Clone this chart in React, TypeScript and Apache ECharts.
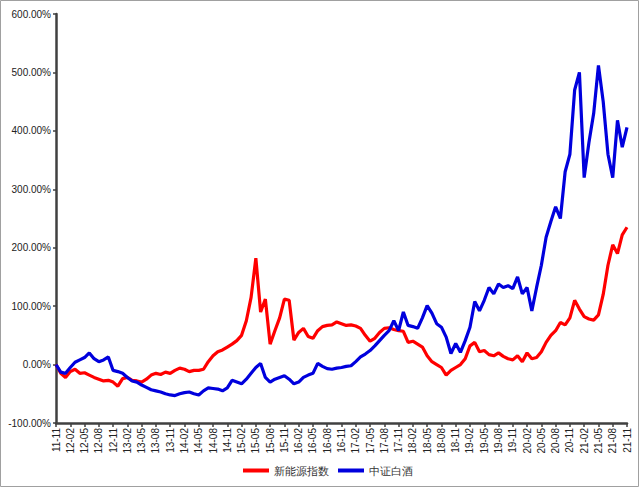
import React, { useEffect, useRef } from "react";
import * as echarts from "echarts";

// Monthly categories 2011-11 .. 2021-11
const months: string[] = (() => {
  const out: string[] = [];
  let y = 11, m = 11;
  while (y < 21 || (y === 21 && m <= 11)) {
    out.push(`${y}-${String(m).padStart(2, "0")}`);
    m++;
    if (m > 12) { m = 1; y++; }
  }
  return out;
})();

const seriesNames = ["新能源指数", "中证白酒"];

// 新能源指数 (%), monthly readings
const newEnergy: number[] = [
  0, -15, -22, -12, -8, -15, -14, -18, -22, -25,
  -28, -27, -30, -37, -24, -22, -27, -28, -30, -25,
  -18, -15, -17, -13, -15, -10, -6, -8, -12, -10,
  -10, -8, 5, 15, 22, 25, 30, 35, 41, 50,
  75, 115, 182, 90, 112, 35, 58, 80, 112, 110,
  42, 55, 62, 48, 45, 58, 65, 67, 68, 73,
  70, 67, 68, 66, 62, 50, 40, 45, 55, 62,
  63, 60, 58, 57, 38, 40, 35, 30, 15, 5,
  0, -5, -18, -10, -5, 0, 10, 32, 38, 22,
  24, 17, 15, 20, 14, 10, 8, 15, 5, 20,
  10, 12, 22, 38, 50, 58, 72, 68, 80, 110,
  95, 82, 78, 76, 85, 120, 170, 205, 190, 222,
  235,
];

// 中证白酒 (%), monthly readings
const baijiu: number[] = [
  0, -13, -15, -5, 4, 8, 12, 20, 10, 5,
  8, 13, -10, -12, -15, -22, -28, -30, -35, -39,
  -43, -45, -47, -50, -52, -53, -50, -48, -47, -50,
  -52, -45, -40, -41, -42, -45, -40, -27, -30, -33,
  -25, -15, -5, 2, -22, -30, -25, -22, -19, -25,
  -33, -30, -22, -18, -15, 2, -3, -7, -8, -6,
  -5, -3, -2, 5, 13, 18, 24, 32, 41, 50,
  58, 75, 58, 90, 67, 65, 62, 80, 101, 88,
  70, 64, 47, 19, 36, 21, 41, 64, 108, 92,
  110, 132, 121, 138, 132, 135, 130, 150, 121, 132,
  92, 132, 170, 218, 245, 270, 250, 330, 360, 470,
  500, 320, 380, 430, 512, 450, 360, 320, 418, 372,
  406,
];

const yTicks = { min: -100, max: 600, interval: 100 };

export default function App() {
  const ref = useRef<HTMLDivElement>(null);
  useEffect(() => {
    document.body.style.margin = "0";
    if (!ref.current) return;
    const chart = echarts.init(ref.current, undefined, { renderer: "svg" });
    const font = "'Liberation Sans', Arial, sans-serif";
    chart.setOption({
      animation: false,
      backgroundColor: "#ffffff",
      grid: { left: 56, right: 13, top: 14, bottom: 65, containLabel: false },
      graphic: [
        {
          type: "rect",
          shape: { x: 0.5, y: 0.5, width: 638, height: 486 },
          style: { fill: "none", stroke: "#a0a0a0", lineWidth: 1 },
          silent: true,
        },
      ],
      legend: {
        bottom: 7,
        left: 238,
        itemWidth: 26,
        itemHeight: 4,
        itemGap: 9,
        icon: "rect",
        textStyle: { fontFamily: font, fontSize: 11, color: "#333" },
        data: seriesNames,
      },
      xAxis: {
        type: "category",
        data: months,
        boundaryGap: false,
        axisLine: { onZero: false, lineStyle: { color: "#404040", width: 2.5 } },
        axisTick: {
          interval: 2,
          length: 4,
          lineStyle: { color: "#404040", width: 1.5 },
        },
        axisLabel: {
          interval: 2,
          rotate: 90,
          fontFamily: font,
          fontSize: 10,
          color: "#222",
          margin: 5,
        },
        splitLine: { show: false },
      },
      yAxis: {
        type: "value",
        min: yTicks.min,
        max: yTicks.max,
        interval: yTicks.interval,
        axisLine: { show: true, lineStyle: { color: "#404040", width: 2.5 } },
        axisTick: { show: true, length: 3, lineStyle: { color: "#404040", width: 1.5 } },
        axisLabel: {
          fontFamily: font,
          fontSize: 10,
          color: "#222",
          margin: 5,
          formatter: (v: number) => v.toFixed(2) + "%",
        },
        splitLine: { show: false },
      },
      series: [
        {
          name: seriesNames[0],
          type: "line",
          data: newEnergy,
          symbol: "none",
          lineStyle: { color: "#ff0000", width: 3.2 },
          itemStyle: { color: "#ff0000" },
        },
        {
          name: seriesNames[1],
          type: "line",
          data: baijiu,
          symbol: "none",
          lineStyle: { color: "#0000dd", width: 3.2 },
          itemStyle: { color: "#0000dd" },
        },
      ],
    });
    return () => chart.dispose();
  }, []);
  return (
    <div
      ref={ref}
      style={{ position: "fixed", left: 0, top: 0, width: 640, height: 488 }}
    />
  );
}
